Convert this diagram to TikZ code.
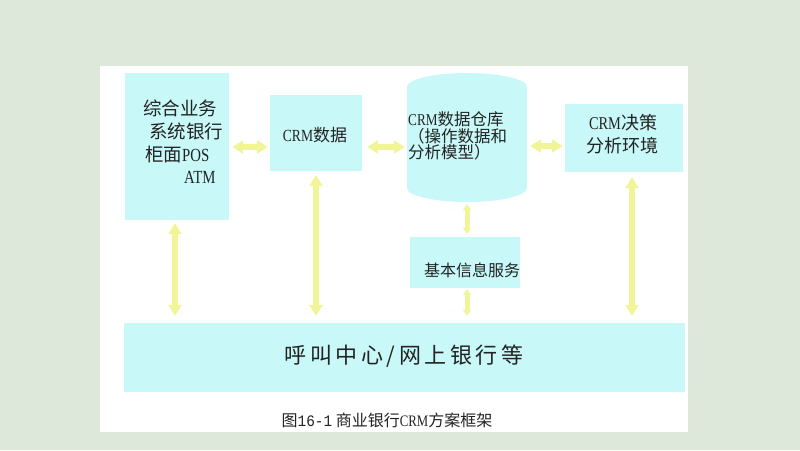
\documentclass[tikz,border=0pt]{standalone}
\usepackage{fontspec}
\setmainfont{Liberation Serif}
\newfontfamily\cjk{Noto Sans CJK SC}
\newfontfamily\lat[FakeStretch=0.8]{Liberation Serif}
\newfontfamily\mono[FakeStretch=0.9]{Liberation Mono}
\usetikzlibrary{arrows.meta}
\definecolor{bgc}{RGB}{221,232,218}
\definecolor{boxc}{RGB}{200,248,248}
\definecolor{arrc}{RGB}{241,245,152}
\definecolor{txt}{RGB}{35,35,35}
\begin{document}
\begin{tikzpicture}[x=1pt,y=-1pt,
  box/.style={fill=boxc, draw=none, inner sep=0pt},
  lbl/.style={font=\cjk\fontsize{#1}{#1}\selectfont, text=txt, inner sep=0pt},
  dbl/.style={draw=arrc, line width=6pt, {Triangle[width=13pt,length=11pt]}-{Triangle[width=13pt,length=11pt]}},
  short/.style={draw=arrc, line width=5pt, {Triangle[width=8pt,length=6pt]}-{Triangle[width=8pt,length=6pt]}}]
\useasboundingbox (0,0) rectangle (800,450);
\fill[bgc] (0,0) rectangle (800,450);
\fill[white] (100,66) rectangle (688,432);
% boxes
\node[box, minimum width=104pt, minimum height=147pt] (left) at (177,146.5) {};
\node[box, minimum width=92pt, minimum height=76pt] (crm) at (316,133) {};
\fill[boxc] (467,87) ellipse [x radius=60pt, y radius=14pt];
\fill[boxc] (407,87) rectangle (527,188);
\fill[boxc] (467,188) ellipse [x radius=60pt, y radius=14pt];
\node[inner sep=0pt, minimum width=120pt, minimum height=129pt] (cyl) at (467,137.5) {};
\node[box, minimum width=118pt, minimum height=68pt] (dec) at (624,138) {};
\node[box, minimum width=110pt, minimum height=51pt] (info) at (465,262.5) {};
\node[box, minimum width=561pt, minimum height=69pt] (bottom) at (404.5,357.5) {};
% texts
\node[lbl=18.5, anchor=west] (l1) at (143,108) {综合业务};
\node[lbl=18.5, anchor=west] (l2) at (149,131) {系统银行};
\node[lbl=18.5, anchor=west] (l3) at (145,154) {柜面{\lat POS}};
\node[lbl=18.5, anchor=west] (l4) at (184,177) {\lat ATM};
\node[lbl=17] (crmt) at (315,135) {{\lat CRM}数据};
\node[lbl=16.5, anchor=west] (c1) at (408,119) {{\lat CRM}数据仓库};
\node[lbl=16.5, anchor=west] (c2) at (408,136) {（操作数据和};
\node[lbl=16.5, anchor=west] (c3) at (408,152) {分析模型）};
\node[lbl=18] (d1) at (623,123) {{\lat CRM}决策};
\node[lbl=18] (d2) at (622,146) {分析环境};
\node[lbl=16] (it) at (472,270) {基本信息服务};
\node[lbl=22] (bt) at (404,356) {呼\hspace{3.5pt}叫\hspace{3.5pt}中\hspace{3.5pt}心\hspace{3.5pt}/\hspace{3.5pt}网\hspace{3.5pt}上\hspace{3.5pt}银\hspace{3.5pt}行\hspace{3.5pt}等};
\node[lbl=16] (cap) at (387,420) {图{\mono 16-1} 商业银行{\lat CRM}方案框架};
% arrows
\coordinate (hrow) at (0,147);
\coordinate (hrowb) at (0,146);
\coordinate (v1) at (175,0);
\coordinate (v5) at (632,0);
\draw[dbl, shorten <=3pt, shorten >=2pt] (left.east |- hrow) -- (crm.west |- hrow);
\draw[dbl, shorten <=5pt, shorten >=2pt] (crm.east |- hrow) -- (cyl.west |- hrow);
\draw[dbl, shorten <=3pt, shorten >=2pt] (cyl.east |- hrowb) -- (dec.west |- hrowb);
\draw[dbl, shorten <=3pt, shorten >=7pt] (v1 |- left.south) -- (v1 |- bottom.north);
\draw[dbl, shorten <=4pt, shorten >=7pt] (crm.south) -- (crm.south |- bottom.north);
\draw[short, shorten <=2pt, shorten >=3pt] (cyl.south) -- (cyl.south |- info.north);
\draw[short, shorten <=1pt, shorten >=7pt] (cyl.south |- info.south) -- (cyl.south |- bottom.north);
\draw[dbl, shorten <=5pt, shorten >=7pt] (v5 |- dec.south) -- (v5 |- bottom.north);
\end{tikzpicture}
\end{document}
